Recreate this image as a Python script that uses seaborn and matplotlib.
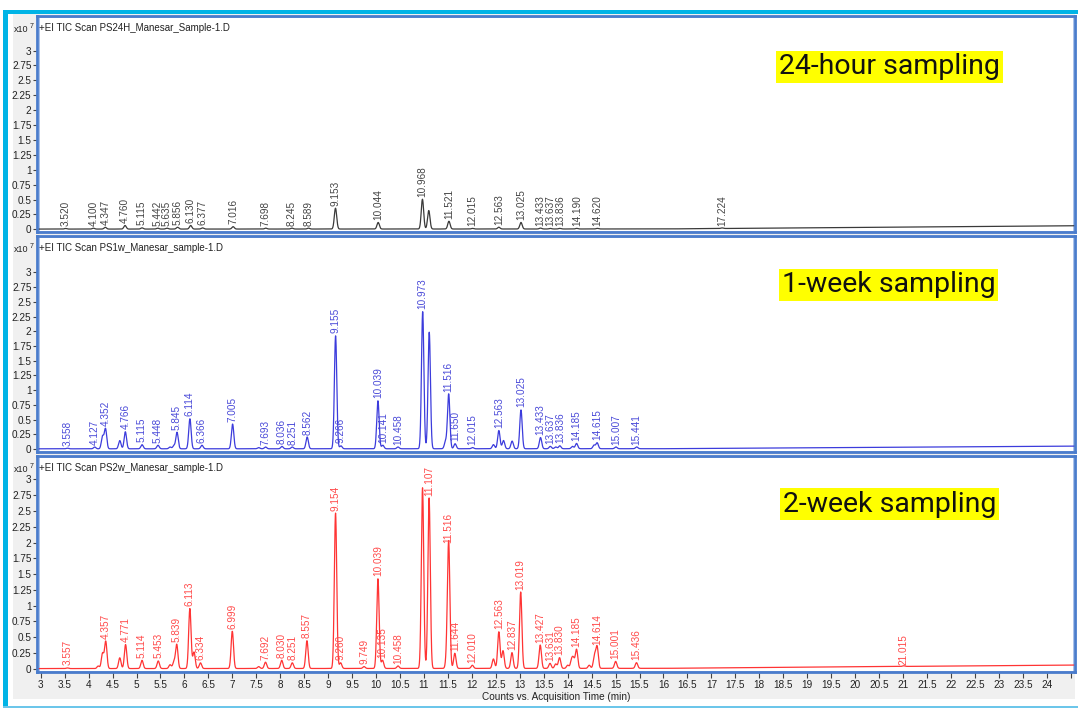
import numpy as np
import pandas as pd
import matplotlib
matplotlib.use("Agg")
import matplotlib.pyplot as plt
from matplotlib.patches import Rectangle
import seaborn as sns

# ---------------- data (heights in units of 1e7 counts) ----------------
rt_24h = [3.520, 4.100, 4.347, 4.760, 5.115, 5.442, 5.635, 5.856, 6.130, 6.377, 7.016,
          7.698, 8.245, 8.589, 9.153, 10.044, 10.968, 11.100, 11.521, 12.015, 12.563,
          13.025, 13.433, 13.637, 13.836, 14.190, 14.620, 17.224]
h_24h = [0.01, 0.015, 0.03, 0.06, 0.02, 0.015, 0.015, 0.03, 0.06, 0.02, 0.04,
         0.015, 0.015, 0.015, 0.35, 0.11, 0.50, 0.31, 0.13, 0.01, 0.03,
         0.11, 0.015, 0.01, 0.01, 0.01, 0.01, 0.01]
lab_24h = ["3.520", "4.100", "4.347", "4.760", "5.115", "5.442", "5.635", "5.856", "6.130",
           "6.377", "7.016", "7.698", "8.245", "8.589", "9.153", "10.044", "10.968", "",
           "11.521", "12.015", "12.563", "13.025", "13.433", "13.637", "13.836", "14.190",
           "14.620", "17.224"]

rt_1w = [3.558, 4.127, 4.290, 4.352, 4.650, 4.766, 5.115, 5.448, 5.700, 5.780, 5.845,
         6.114, 6.366, 7.005, 7.550, 7.693, 8.036, 8.251, 8.562, 9.155, 9.266, 10.039,
         10.141, 10.458, 10.973, 11.110, 11.450, 11.516, 11.650, 12.015, 12.450, 12.563,
         12.660, 12.840, 13.025, 13.433, 13.637, 13.750, 13.836, 14.100, 14.185, 14.550,
         14.615, 15.007, 15.441]
h_1w = [0.01, 0.03, 0.21, 0.34, 0.14, 0.29, 0.07, 0.06, 0.03, 0.05, 0.28,
        0.51, 0.06, 0.42, 0.02, 0.03, 0.04, 0.03, 0.20, 1.92, 0.05, 0.815,
        0.06, 0.03, 2.33, 1.98, 0.12, 0.93, 0.085, 0.02, 0.07, 0.31,
        0.14, 0.13, 0.66, 0.19, 0.04, 0.03, 0.05, 0.04, 0.09, 0.06,
        0.10, 0.03, 0.03]
lab_1w = ["3.558", "4.127", "", "4.352", "", "4.766", "5.115", "5.448", "", "", "5.845",
          "6.114", "6.366", "7.005", "", "7.693", "8.036", "8.251", "8.562", "9.155", "9.266",
          "10.039", "10.141", "10.458", "10.973", "", "", "11.516", "11.650", "12.015", "",
          "12.563", "", "", "13.025", "13.433", "13.637", "", "13.836", "", "14.185", "",
          "14.615", "15.007", "15.441"]

rt_2w = [3.557, 4.200, 4.290, 4.357, 4.650, 4.771, 5.114, 5.453, 5.700, 5.780, 5.839,
         6.113, 6.200, 6.334, 6.999, 7.550, 7.692, 8.030, 8.251, 8.557, 9.154, 9.260,
         9.749, 10.039, 10.135, 10.458, 10.970, 11.107, 11.480, 11.516, 11.644, 12.010,
         12.450, 12.563, 12.650, 12.837, 13.019, 13.427, 13.631, 13.750, 13.830, 14.000,
         14.080, 14.120, 14.185, 14.450, 14.560, 14.614, 15.001, 15.436, 21.015]
h_2w = [0.01, 0.04, 0.24, 0.43, 0.17, 0.38, 0.13, 0.12, 0.06, 0.10, 0.38,
        0.95, 0.26, 0.09, 0.59, 0.03, 0.10, 0.13, 0.09, 0.44, 2.46, 0.09,
        0.03, 1.42, 0.13, 0.04, 2.86, 2.70, 0.20, 1.95, 0.24, 0.05,
        0.15, 0.58, 0.28, 0.25, 1.21, 0.37, 0.08, 0.07, 0.17, 0.05,
        0.12, 0.14, 0.30, 0.05, 0.20, 0.34, 0.11, 0.09, 0.01]
lab_2w = ["3.557", "", "", "4.357", "", "4.771", "5.114", "5.453", "", "", "5.839",
          "6.113", "", "6.334", "6.999", "", "7.692", "8.030", "8.251", "8.557", "9.154",
          "9.260", "9.749", "10.039", "10.135", "10.458", "", "11.107", "", "11.516",
          "11.644", "12.010", "", "12.563", "", "12.837", "13.019", "13.427", "13.631", "",
          "13.830", "", "", "", "14.185", "", "", "14.614", "15.001", "15.436", "21.015"]

drift_x = [2.92, 16.0, 24.6]
drift_24h = [0.004, 0.006, 0.06]
drift_1w = [0.004, 0.006, 0.05]
drift_2w = [0.004, 0.008, 0.06]

titles = ["+EI TIC Scan PS24H_Manesar_Sample-1.D",
          "+EI TIC Scan PS1w_Manesar_sample-1.D",
          "+EI TIC Scan PS2w_Manesar_sample-1.D"]
tags = ["24-hour sampling", "1-week sampling", "2-week sampling"]
y_ticks = [0, 0.25, 0.5, 0.75, 1, 1.25, 1.5, 1.75, 2, 2.25, 2.5, 2.75, 3]
y_ticklabels = ["0", "0.25", "0.5", "0.75", "1", "1.25", "1.5", "1.75", "2",
                "2.25", "2.5", "2.75", "3"]
x_label = "Counts vs. Acquisition Time (min)"

# ---------------- styling ----------------
sns.set_style("white")
NARROW = ["Liberation Sans Narrow", "Liberation Sans", "DejaVu Sans"]
plt.rcParams["font.family"] = NARROW

W, H = 1078, 710
fig = plt.figure(figsize=(W / 100, H / 100), dpi=100, facecolor="white")


def fx(px):
    return px / W


def fy(py):
    return 1 - py / H


# background frame
fig.add_artist(Rectangle((fx(13), fy(699)), fx(1075) - fx(13), fy(14) - fy(699),
                         transform=fig.transFigure, facecolor="#f0f0f0", edgecolor="none", zorder=-5))
fig.add_artist(Rectangle((fx(3), fy(14)), fx(1078) - fx(3), fy(10) - fy(14),
                         transform=fig.transFigure, facecolor="#00b4e6", edgecolor="none", zorder=5))
fig.add_artist(Rectangle((fx(3), fy(708)), fx(8) - fx(3), fy(10) - fy(708),
                         transform=fig.transFigure, facecolor="#00b4e6", edgecolor="none", zorder=5))
fig.add_artist(Rectangle((fx(3), fy(708)), fx(1078) - fx(3), fy(706) - fy(708),
                         transform=fig.transFigure, facecolor="#6cc6ea", edgecolor="none", zorder=5))

panel_px = [(16, 232), (236, 452), (456, 672)]
ylims = [(-0.045, 3.58), (-0.05, 3.62), (-0.05, 3.37)]
xlim = (2.922, 24.59)
line_colors = ["#3a3a3a", "#3c3cdc", "#ff3434"]
label_colors = ["#444444", "#4a4ad8", "#ff4a4a"]
series = [(rt_24h, h_24h, lab_24h, drift_24h),
          (rt_1w, h_1w, lab_1w, drift_1w),
          (rt_2w, h_2w, lab_2w, drift_2w)]

t = np.arange(xlim[0], xlim[1], 0.002)
SIG = 0.025

for i, (top, bot) in enumerate(panel_px):
    ax = fig.add_axes([fx(37), fy(bot), fx(1075) - fx(37), fy(top) - fy(bot)])
    ax.set_facecolor("white")
    rts, hs, labs, drift = series[i]
    trace = np.interp(t, drift_x, drift)
    for r, h in zip(rts, hs):
        trace = trace + h * np.exp(-0.5 * ((t - r) / SIG) ** 2)
    df = pd.DataFrame({"time": t, "counts": trace})
    sns.lineplot(data=df, x="time", y="counts", ax=ax, color=line_colors[i],
                 linewidth=0.9, estimator=None, sort=False)
    for r, h, lab in zip(rts, hs, labs):
        if lab:
            ax.annotate(lab, xy=(r, h), xytext=(0, 2), textcoords="offset points",
                        rotation=90, ha="center", va="bottom", fontsize=7.2,
                        color=label_colors[i])
    ax.set_xlim(*xlim)
    ax.set_ylim(*ylims[i])
    ax.set_yticks(y_ticks)
    ax.set_yticklabels(y_ticklabels, fontsize=7.2, color="#222222")
    ax.tick_params(axis="y", direction="out", length=3, width=0.8, color="#444444", pad=1, left=True)
    ax.set_ylabel("")
    for sp in ax.spines.values():
        sp.set_visible(True)
        sp.set_color("#4a7ccc")
        sp.set_linewidth(2.0)
    # inner thin line of the double border
    ax.add_patch(Rectangle((0.0015, 0.006), 0.997, 0.988, transform=ax.transAxes,
                           fill=False, edgecolor="#a9c1ea", linewidth=0.7, zorder=0.5))
    if i < 2:
        ax.set_xticks([])
        ax.set_xlabel("")
    else:
        xt = np.arange(3, 24.51, 0.5)
        ax.set_xticks(xt)
        ax.set_xticklabels([("%g" % v) if v < 24.4 else "" for v in xt], fontsize=7.2, color="#222222")
        ax.tick_params(axis="x", direction="out", length=4, width=0.8, color="#444444", pad=2, bottom=True)
        ax.set_xlabel(x_label, fontsize=7.2, color="#222222", labelpad=1)
    # header texts
    fig.text(fx(39), fy(top + 12), titles[i], fontsize=7, ha="left", va="center", color="#222222")
    fig.text(fx(14), fy(top + 13), "x10", fontsize=6.5, ha="left", va="center", color="#222222")
    fig.text(fx(30), fy(top + 10), "7", fontsize=5, ha="left", va="center", color="#222222")

tag_px = [(779, 67), (782, 285), (783, 504)]
for (px, py), tag in zip(tag_px, tags):
    fig.text(fx(px), fy(py), tag, fontsize=20.5, family=["Roboto", "DejaVu Sans"], weight="normal",
             ha="left", va="center", color="#111111",
             bbox=dict(boxstyle="square,pad=0.1", facecolor="#ffff00", edgecolor="none"))

fig.savefig("out.png", dpi=100, facecolor="white")
